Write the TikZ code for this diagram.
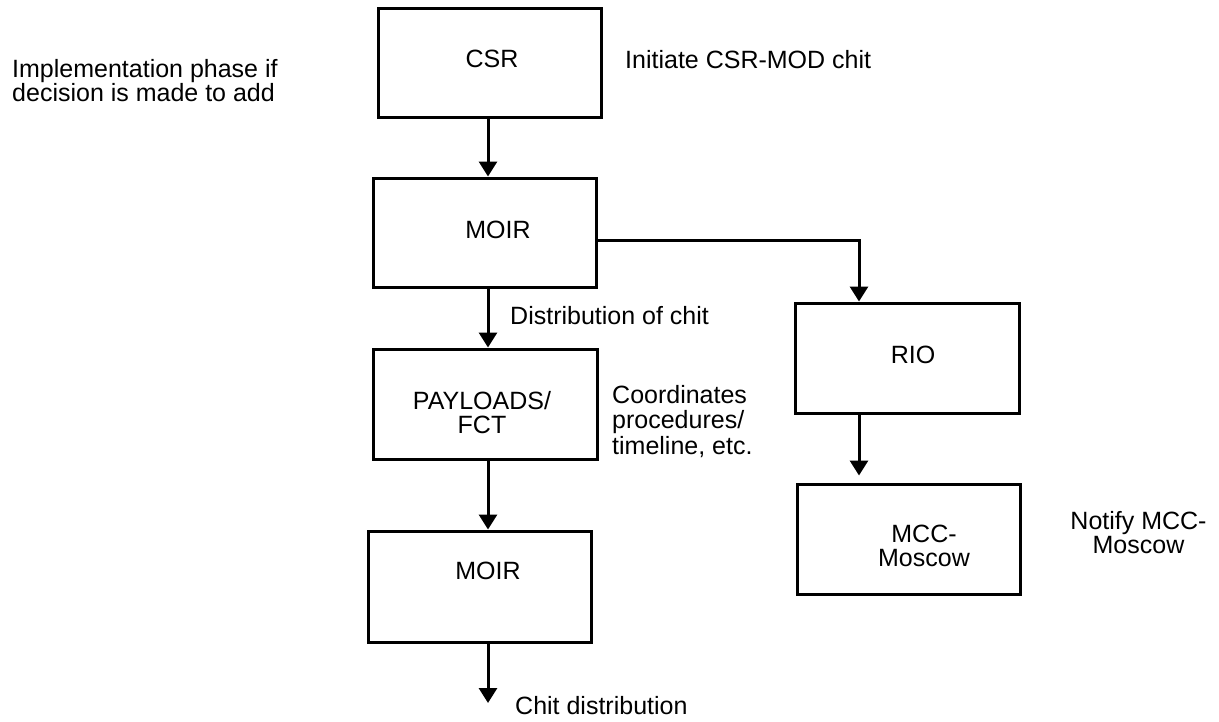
\documentclass[tikz,border=0pt]{standalone}
\usepackage{fontspec}
\setmainfont{Liberation Sans}
\usetikzlibrary{arrows.meta}
\begin{document}
\begin{tikzpicture}[x=1pt,y=-1pt,
  every node/.style={font=\fontsize{25}{24}\selectfont, inner sep=0pt},
  box/.style={draw, line width=3pt, inner sep=0pt},
  lbl/.style={align=center},
  arr/.style={line width=3pt, -{Triangle[width=18pt,length=15pt]}}
]
\useasboundingbox (0,0) rectangle (1219,721);
% boxes
\node[box, minimum width=223pt, minimum height=109pt,
  label={[lbl,xshift=2.5pt,yshift=3.5pt]center:CSR}] (csr) at (489.5,62.5) {};
\node[box, minimum width=223pt, minimum height=109pt,
  label={[lbl,xshift=13.5pt,yshift=2.5pt]center:MOIR}] (moir1) at (484.5,232.5) {};
\node[box, minimum width=224pt, minimum height=110pt,
  label={[lbl,xshift=-3pt,yshift=-9pt]center:PAYLOADS/\\FCT}] (pay) at (485,404) {};
\node[box, minimum width=223pt, minimum height=111pt,
  label={[lbl,xshift=8.5pt,yshift=15.5pt]center:MOIR}] (moir2) at (479.5,586.5) {};
\node[box, minimum width=224pt, minimum height=110pt,
  label={[lbl,xshift=6pt,yshift=3pt]center:RIO}] (rio) at (907,358) {};
\node[box, minimum width=223pt, minimum height=110pt,
  label={[lbl,font=\fontsize{25}{23.5}\selectfont,xshift=15.5pt,yshift=-7pt]center:MCC-\\Moscow}] (mcc) at (908.5,539) {};
% free texts
\node[anchor=north west, align=left] (impl) at (12,59) {Implementation phase if\\decision is made to add};
\node[anchor=base west] (init) at (625,68) {Initiate CSR-MOD chit};
\node[anchor=base west] (dist) at (510,324) {Distribution of chit};
\node[anchor=north west, align=left, font=\fontsize{25}{25.5}\selectfont] (coord) at (612,385) {Coordinates\\procedures/\\timeline, etc.};
\node[align=center, font=\fontsize{25}{23.5}\selectfont] (notify) at (1138.5,532.5) {Notify MCC-\\Moscow};
\node[anchor=base west] (chit) at (515,714) {Chit distribution};
% connectors
\coordinate (vx) at (488,0);
\coordinate (rt) at (859,240);
\coordinate (endp) at (488,703);
\draw[arr] (csr.south -| vx) -- (moir1.north -| vx);
\draw[arr] (moir1.south -| vx) -- (pay.north -| vx);
\draw[arr] (pay.south -| vx) -- (moir2.north -| vx);
\draw[arr] (moir2.south -| vx) -- (endp);
\draw[arr] (moir1.east |- rt) -- (rt) -- (rio.north -| rt);
\draw[arr, shorten >=7pt] (rio.south -| rt) -- (mcc.north -| rt);
\end{tikzpicture}
\end{document}
